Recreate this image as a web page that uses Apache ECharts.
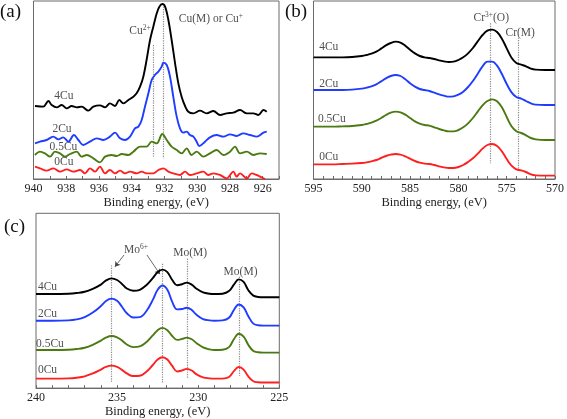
<!DOCTYPE html>
<html><head><meta charset="utf-8">
<script src="https://cdn.jsdelivr.net/npm/echarts@6/dist/echarts.min.js"></script>
<style>html,body{margin:0;padding:0;background:#fff}#c{width:567px;height:419px}</style>
</head><body><div id="c"></div>
<script>
// ---------- Panel (a): Cu 2p ----------
const aLabels = [926,928,930,932,934,936,938,940];
const aTicks = [925,926,927,928,929,930,931,932,933,934,935,936,937,938,939,940];
const a_4Cu = [[939.91,219],[939.40,217],[939.09,234],[938.89,222],[938.58,215],[938.28,222],[937.97,212],[937.67,219],[937.36,215],[937.06,217],[936.65,205],[936.34,217],[935.94,221],[935.63,215],[935.33,227],[935.02,219],[934.76,237],[934.51,227],[934.20,237],[933.90,247],[933.70,257],[933.49,277],[933.29,307],[933.09,357],[932.88,417],[932.68,457],[932.47,497],[932.31,517],[932.13,525],[931.96,517],[931.76,477],[931.56,417],[931.35,347],[931.15,287],[930.95,247],[930.74,219],[930.54,202],[930.23,197],[929.83,205],[929.42,197],[929.01,204],[928.60,192],[928.20,197],[927.79,199],[927.38,207],[926.97,197],[926.57,197],[926.26,192],[925.95,207],[925.75,202]];
const a_2Cu = [[939.91,107],[939.60,112],[939.20,117],[938.79,127],[938.48,119],[938.18,125],[937.87,112],[937.53,132],[937.26,117],[936.96,102],[936.55,112],[936.14,122],[935.73,117],[935.33,127],[935.02,139],[934.71,122],[934.41,117],[934.10,127],[933.80,152],[933.59,157],[933.39,177],[933.19,217],[932.98,257],[932.78,297],[932.58,312],[932.37,322],[932.17,337],[932.07,349],[931.86,342],[931.66,307],[931.46,247],[931.25,187],[931.05,152],[930.85,139],[930.64,142],[930.44,132],[930.23,127],[930.03,112],[929.87,99],[929.52,112],[929.22,125],[928.81,132],[928.40,127],[927.99,134],[927.59,129],[927.18,137],[926.77,132],[926.36,127],[925.95,139],[925.75,142]];
const a_05Cu = [[939.91,72],[939.60,82],[939.30,77],[938.99,67],[938.69,82],[938.38,77],[938.08,67],[937.77,75],[937.36,82],[937.06,67],[936.75,72],[936.34,62],[935.94,50],[935.63,67],[935.22,72],[934.92,69],[934.61,75],[934.20,72],[933.90,82],[933.49,97],[933.09,97],[932.78,112],[932.47,107],[932.13,135],[931.86,117],[931.56,97],[931.25,87],[930.95,77],[930.64,92],[930.34,72],[930.03,82],[929.62,67],[929.22,77],[928.81,87],[928.40,72],[927.99,82],[927.69,97],[927.38,77],[926.97,82],[926.57,72],[926.16,77],[925.75,75]];
const a_0Cu = [[939.91,37],[939.60,32],[939.20,25],[938.79,32],[938.38,22],[937.97,29],[937.57,22],[937.16,27],[936.85,17],[936.55,32],[936.24,22],[935.94,37],[935.63,17],[935.33,27],[935.02,17],[934.71,25],[934.41,17],[934.10,22],[933.70,17],[933.39,22],[933.09,17],[932.68,17],[932.37,27],[932.07,32],[931.76,22],[931.46,17],[931.05,12],[930.74,22],[930.44,12],[930.03,17],[929.62,22],[929.32,12],[929.01,17],[928.60,12],[928.20,2],[927.79,22],[927.59,7],[927.38,17],[926.97,2],[926.67,17],[926.36,12],[926.06,5],[925.85,0]];
const aRefLines = [[932.68,402,67],[932.07,517,62]];
const aNotes = [[938.14,249,'{n|4Cu}'],[938.26,150,'{n|2Cu}'],[938.17,96,'{n|0.5Cu}'],[938.14,51,'{n|0Cu}'],[933.49,444,'{n|Cu}{s|2+}'],[929.16,480,'{n|Cu(M) or Cu}{s|+}']];

// ---------- Panel (b): Cr 2p ----------
const bLabels = [570,575,580,585,590,595];
const bTicks = [570,571,572,573,574,575,576,577,578,579,580,581,582,583,584,585,586,587,588,589,590,591,592,593,594,595];
const bX = [595,594,593,592,591,590,589.5,589,588.5,588,587.5,587,586.5,586,585.5,585,584.5,584,583.5,583,582.5,582,581.5,581,580.5,580,579.5,579,578.5,578,577.5,577,576.5,576,575.5,575,574.5,574,573.5,573,572.5,572,571,570];
const b_4Cu = [365,365,365,365,366,369,372,376,382,391,401,408,412,409,400,388,377,369,365,363,360,356,353,351,352,357,365,377,393,413,432,445,448,441,421,392,364,348,343,338,331,328,327,327];
const b_2Cu = [267,267,267,267,268,271,274,278,284,293,302,309,312,309,299,287,277,270,267,264,259,254,250,247,248,253,262,276,294,316,338,352,352,340,315,285,260,246,241,234,227,223,222,222];
const b_05Cu = [157,157,157,158,159,162,165,169,175,183,192,199,202,200,193,183,173,166,162,160,155,150,146,143,143,147,155,167,183,202,221,234,239,233,215,186,158,143,138,131,123,119,117,117];
const b_0Cu = [44,44,44,45,46,48,50,53,57,63,69,73,75,73,68,61,54,49,46,45,42,38,35,33,33,36,42,51,62,76,91,102,105,99,83,60,40,29,26,21,14,11,10,10];
const bRefLines = [[576.7,467,47],[573.8,424,27]];
const bNotes = [[593.42,396,'{n|4Cu}'],[593.42,285,'{n|2Cu}'],[593.1,180,'{n|0.5Cu}'],[593.42,66,'{n|0Cu}'],[576.6,483,'{n|Cr}{s|3+}{n|(O)}'],[573.6,438,'{n|Cr(M)}']];

// ---------- Panel (c): Mo 3d ----------
const cLabels = [225,230,235,240];
const cTicks = [225,226,227,228,229,230,231,232,233,234,235,236,237,238,239,240];
const cX = [240,239,238,237.5,237,236.5,236,235.7,235.35,235,234.7,234.4,234,233.6,233.2,232.8,232.5,232.2,231.9,231.6,231.3,231,230.7,230.4,230.1,229.7,229.3,229,228.5,228.1,227.8,227.5,227.2,226.9,226.6,226.3,226,225];
const c_4Cu = [289,289,290,292,296,305,318,330,337,332,320,306,299,302,316,338,356,364,356,332,316,319,324,318,305,294,290,289,290,298,318,334,326,300,284,280,279,279];
const c_2Cu = [207,207,208,211,218,232,252,267,275,268,250,230,217,218,236,271,302,315,302,265,242,243,247,240,225,212,208,207,208,216,240,257,248,220,198,193,192,192];
const c_05Cu = [117,117,118,120,124,133,146,155,160,156,146,134,126,128,141,162,178,185,178,160,148,151,155,150,138,125,119,117,118,126,150,167,158,132,114,110,109,109];
const c_0Cu = [29,29,30,32,36,45,57,65,69,65,56,45,37,38,50,71,88,95,88,68,51,54,59,54,42,33,30,29,29,34,52,65,57,35,21,18,17,17];
const cRefLines = [[235.35,377,17],[232.2,382,17],[230.7,397,32],[227.45,342,37]];
const cArrows = [[234.57,409,235.13,373],[233.16,409,232.36,350]];
const cNotes = [[239.29,310,'{n|4Cu}'],[239.29,229,'{n|2Cu}'],[239.14,136,'{n|0.5Cu}'],[239.29,55,'{n|0Cu}'],[233.83,424,'{n|Mo}{s|6+}'],[230.5,415,'{n|Mo(M)}'],[227.39,358,'{n|Mo(M)}']];

const sampleNames = ['4Cu','2Cu','0.5Cu','0Cu'];
const sampleColors = ['#000000','#1f3cff','#4b7a12','#ff1f1f'];

// ---------- build ----------
const FONT = 'Liberation Serif';
const TXT = '#222';
const AX = '#6b6b6b';
const rich = {
  n:{fontFamily:FONT,fontSize:11.5,color:TXT,lineHeight:14},
  s:{fontFamily:FONT,fontSize:7.5,color:TXT,verticalAlign:'top',lineHeight:14}
};
const grids = [
  {left:33.5, top:1, width:245.5, height:178},
  {left:313.5, top:1, width:244.5, height:178},
  {left:36, top:213.3, width:243.3, height:179}
].map(g=>Object.assign({show:true,borderColor:AX,borderWidth:1,backgroundColor:'transparent'},g));

function xAx(i,min,max,labels,ticks){
  return {gridIndex:i,type:'value',min:min,max:max,inverse:true,
    name:'Binding energy, (eV)',nameLocation:'middle',nameGap:16,
    nameTextStyle:{fontFamily:FONT,fontSize:12.5,color:TXT},
    axisLine:{show:true,onZero:false,lineStyle:{color:AX,width:1}},
    axisTick:{show:true,inside:true,length:3,customValues:ticks,lineStyle:{color:AX}},
    axisLabel:{customValues:labels,fontFamily:FONT,fontSize:12,color:TXT,margin:4},
    splitLine:{show:false}};
}
function yAx(i,max){return {gridIndex:i,type:'value',min:0,max:max,show:false,splitLine:{show:false}};}

const xAxis=[xAx(0,925,940,aLabels,aTicks),xAx(1,570,595,bLabels,bTicks),xAx(2,225,240,cLabels,cTicks)];
const yAxis=[yAx(0,534),yAx(1,534),yAx(2,537)];

const series=[];
const panelA=[a_4Cu,a_2Cu,a_05Cu,a_0Cu];
const panelB=[b_4Cu,b_2Cu,b_05Cu,b_0Cu];
const panelC=[c_4Cu,c_2Cu,c_05Cu,c_0Cu];
function refLineData(list){return list.map(r=>[{coord:[r[0],r[1]]},{coord:[r[0],r[2]]}]);}
function lineSeries(i,data,k,smooth){
  return {type:'line',xAxisIndex:i,yAxisIndex:i,data:data,showSymbol:false,smooth:smooth,
    lineStyle:{color:sampleColors[k],width:1.9},itemStyle:{color:sampleColors[k]},z:3,silent:true};
}
panelA.forEach((d,k)=>series.push(lineSeries(0,d,k,0.35)));
panelB.forEach((d,k)=>series.push(lineSeries(1,bX.map((x,j)=>[x,d[j]]),k,0.4)));
panelC.forEach((d,k)=>series.push(lineSeries(2,cX.map((x,j)=>[x,d[j]]),k,0.4)));

function noteSeries(i,notes,refs,arrows){
  const ml=refLineData(refs).map(p=>{p[0].lineStyle={type:'dotted',color:'#8a8a8a',width:1.2};return p;});
  if(arrows){arrows.forEach(a=>ml.push([{coord:[a[0],a[1]],symbol:'none',lineStyle:{type:'solid',color:'#444',width:0.8}},{coord:[a[2],a[3]],symbol:'arrow',symbolSize:5}]));}
  return {type:'scatter',xAxisIndex:i,yAxisIndex:i,symbolSize:0,silent:true,z:5,
    data:notes.map(n=>({value:[n[0],n[1]],label:{show:true,position:'inside',formatter:n[2],rich:rich}})),
    markLine:{silent:true,symbol:['none','none'],label:{show:false},animation:false,z:1,data:ml}};
}
series.push(noteSeries(0,aNotes,aRefLines));
series.push(noteSeries(1,bNotes,bRefLines));
series.push(noteSeries(2,cNotes,cRefLines,cArrows));

const option={
  animation:false,
  grid:grids,xAxis:xAxis,yAxis:yAxis,series:series,
  graphic:[
    {type:'text',left:0,top:3,style:{text:'(a)',font:'19px "Liberation Serif"',fill:'#111'}},
    {type:'text',left:285,top:3,style:{text:'(b)',font:'19px "Liberation Serif"',fill:'#111'}},
    {type:'text',left:4,top:218,style:{text:'(c)',font:'19px "Liberation Serif"',fill:'#111'}}
  ]
};
const chart=echarts.init(document.getElementById('c'),null,{renderer:'canvas'});
chart.setOption(option);
</script></body></html>
